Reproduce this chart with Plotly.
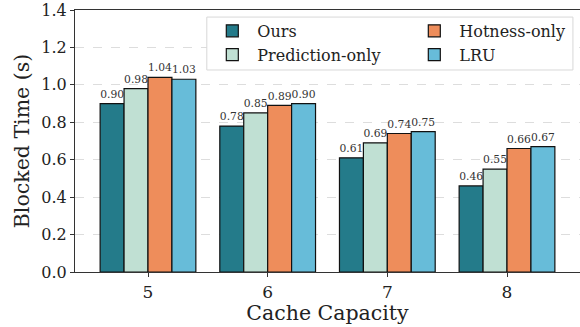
import plotly.graph_objects as go

categories = ["5", "6", "7", "8"]
series_names = ["Ours", "Prediction-only", "Hotness-only", "LRU"]
ours = [0.90, 0.78, 0.61, 0.46]
prediction_only = [0.98, 0.85, 0.69, 0.55]
hotness_only = [1.04, 0.89, 0.74, 0.66]
lru = [1.03, 0.90, 0.75, 0.67]
y_ticks = [0.0, 0.2, 0.4, 0.6, 0.8, 1.0, 1.2, 1.4]

colors = ["#247b8a", "#c0e0d3", "#ee8d5b", "#67bcd9"]
legends = ["legend", "legend", "legend2", "legend2"]
values = [ours, prediction_only, hotness_only, lru]
FONT = "DejaVu Serif, Liberation Serif, serif"

fig = go.Figure()
xs = list(range(len(categories)))
for name, vals, col, lg in zip(series_names, values, colors, legends):
    fig.add_trace(go.Bar(
        x=xs, y=vals, name=name, legend=lg,
        marker=dict(color=col, line=dict(color="#111111", width=1.2)),
        text=[f"{v:.2f}" for v in vals], textposition="outside",
        textfont=dict(family=FONT, size=11, color="#333333"),
        cliponaxis=False, width=0.2,
    ))

leg_common = dict(
    xanchor="left", yanchor="top", orientation="v",
    font=dict(family=FONT, size=16, color="#222222"),
    bgcolor="rgba(0,0,0,0)", borderwidth=0, itemwidth=40, tracegroupgap=0,
)

fig.update_layout(
    width=580, height=327,
    margin=dict(l=75, r=0, t=10, b=55),
    barmode="group", bargap=0.2, bargroupgap=0,
    plot_bgcolor="white", paper_bgcolor="white",
    font=dict(family=FONT, color="#222222"),
    showlegend=True,
    legend=dict(x=0.262, y=0.985, **leg_common),
    legend2=dict(x=0.662, y=0.985, **leg_common),
    shapes=[dict(type="rect", xref="paper", yref="paper",
                 x0=0.261, x1=0.986, y0=0.771, y1=0.973,
                 fillcolor="white", line=dict(color="#d8d8d8", width=1),
                 layer="above")],
    xaxis=dict(
        tickmode="array", tickvals=xs, ticktext=categories,
        range=[-0.61, 3.61],
        showline=True, linecolor="#333333", linewidth=1.2, mirror=True,
        ticks="outside", ticklen=4, tickcolor="#333333",
        tickfont=dict(family=FONT, size=17),
        title=dict(text="Cache Capacity", font=dict(family=FONT, size=20.5), standoff=4),
        showgrid=False, zeroline=False, automargin=False,
    ),
    yaxis=dict(
        range=[0, 1.4], tickmode="array", tickvals=y_ticks,
        ticktext=[f"{t:.1f}" for t in y_ticks],
        showline=True, linecolor="#333333", linewidth=1.2,
        ticks="outside", ticklen=4, tickcolor="#333333",
        tickfont=dict(family=FONT, size=16),
        title=dict(text="Blocked Time (s)", font=dict(family=FONT, size=20.5), standoff=6),
        showgrid=True, gridcolor="#dddddd", griddash="dash", gridwidth=1,
        zeroline=False, automargin=False,
    ),
)

fig.write_html("out.html", config={"displayModeBar": False},
               post_script="document.body.style.margin='0';")
